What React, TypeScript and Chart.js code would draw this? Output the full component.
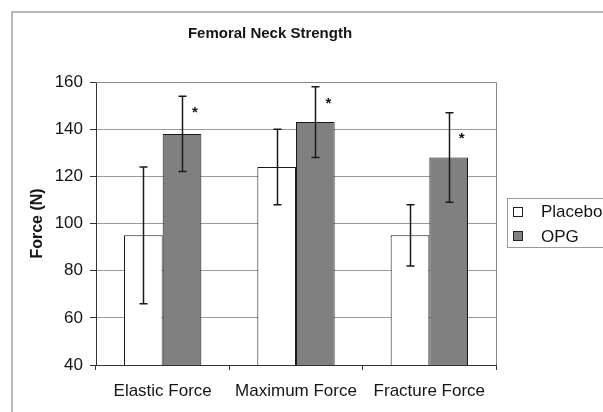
import React, { useEffect, useRef } from 'react';
import { Chart, registerables } from 'chart.js';

Chart.register(...registerables);

const chartTitle = 'Femoral Neck Strength';
const yAxisTitle = 'Force (N)';
const categories = ['Elastic Force', 'Maximum Force', 'Fracture Force'];
const seriesNames = ['Placebo', 'OPG'];
const placeboValues = [95, 124, 95];
const opgValues = [138, 143, 128];
const placeboLow = [66, 108, 82];
const placeboHigh = [124, 140, 108];
const opgLow = [122, 128, 109];
const opgHigh = [154, 158, 147];
const starLevels = [149, 153, 138];
const yTicks = [40, 60, 80, 100, 120, 140, 160];

const FONT = "'Liberation Sans', Arial, Helvetica, sans-serif";
const TEXT = '#151515';

const decorPlugin = {
  id: 'decor',
  beforeDraw(chart: any) {
    const ctx = chart.ctx;
    ctx.save();
    ctx.fillStyle = '#ffffff';
    ctx.fillRect(0, 0, chart.width, chart.height);
    ctx.strokeStyle = '#b8b8b8';
    ctx.lineWidth = 2;
    ctx.strokeRect(12, 12, chart.width + 20, chart.height + 20);
    ctx.restore();
  },
  afterDatasetsDraw(chart: any) {
    const ctx = chart.ctx;
    const y = chart.scales.y;
    const a = chart.chartArea;
    ctx.save();
    // plot border (top / right)
    ctx.strokeStyle = '#8a8a8a';
    ctx.lineWidth = 1;
    ctx.beginPath();
    ctx.moveTo(a.left, Math.round(a.top) + 0.5);
    ctx.lineTo(Math.round(a.right) + 0.5, Math.round(a.top) + 0.5);
    ctx.lineTo(Math.round(a.right) + 0.5, a.bottom);
    ctx.stroke();

    // error bars
    ctx.strokeStyle = '#1a1a1a';
    ctx.lineWidth = 1.5;
    chart.data.datasets.forEach((ds: any, di: number) => {
      const meta = chart.getDatasetMeta(di);
      meta.data.forEach((bar: any, i: number) => {
        const x = Math.round(bar.x) + 0.5;
        const yl = y.getPixelForValue(ds.errLow[i]);
        const yh = y.getPixelForValue(ds.errHigh[i]);
        ctx.beginPath();
        ctx.moveTo(x, yl);
        ctx.lineTo(x, yh);
        ctx.moveTo(x - 4, yl);
        ctx.lineTo(x + 4, yl);
        ctx.moveTo(x - 4, yh);
        ctx.lineTo(x + 4, yh);
        ctx.stroke();
      });
    });

    // significance stars on OPG
    const opgMeta = chart.getDatasetMeta(1);
    ctx.fillStyle = TEXT;
    ctx.font = `bold 15px ${FONT}`;
    ctx.textAlign = 'center';
    ctx.textBaseline = 'alphabetic';
    opgMeta.data.forEach((bar: any, i: number) => {
      const cy = y.getPixelForValue(starLevels[i]);
      ctx.fillText('*', bar.x + 13, cy + 9);
    });
    ctx.restore();
  },
  afterDraw(chart: any) {
    const ctx = chart.ctx;
    ctx.save();
    // title
    ctx.fillStyle = TEXT;
    ctx.font = `bold 15px ${FONT}`;
    ctx.textAlign = 'center';
    ctx.textBaseline = 'middle';
    ctx.fillText(chartTitle, 270, 34);

    // legend
    ctx.strokeStyle = '#9a9a9a';
    ctx.lineWidth = 1;
    ctx.strokeRect(507.5, 198.5, 130, 49);
    ctx.font = `17px ${FONT}`;
    ctx.textAlign = 'left';
    const rows = [211.5, 236];
    chart.data.datasets.forEach((ds: any, i: number) => {
      const cy = rows[i];
      ctx.fillStyle = ds.backgroundColor;
      ctx.fillRect(513.5, Math.round(cy - 5) + 0.5, 9, 9);
      ctx.strokeStyle = '#222';
      ctx.strokeRect(513.5, Math.round(cy - 5) + 0.5, 9, 9);
      ctx.fillStyle = TEXT;
      ctx.fillText(ds.label, 541, cy + 1);
    });
    ctx.restore();
  },
};

export default function App() {
  const ref = useRef<HTMLCanvasElement | null>(null);
  useEffect(() => {
    if (!ref.current) return;
    const chart = new Chart(ref.current, {
      type: 'bar',
      data: {
        labels: categories,
        datasets: [
          {
            label: seriesNames[0],
            data: placeboValues,
            backgroundColor: '#ffffff',
            borderColor: '#1a1a1a',
            borderWidth: 1,
            errLow: placeboLow,
            errHigh: placeboHigh,
          } as any,
          {
            label: seriesNames[1],
            data: opgValues,
            backgroundColor: '#808080',
            borderColor: '#1a1a1a',
            borderWidth: 1,
            errLow: opgLow,
            errHigh: opgHigh,
          } as any,
        ],
      },
      options: {
        animation: false,
        responsive: false,
        devicePixelRatio: 1,
        layout: { padding: { left: 0, top: 82, right: 107, bottom: 0 } },
        datasets: { bar: { categoryPercentage: 0.58, barPercentage: 1 } },
        plugins: {
          legend: { display: false },
          title: { display: false },
          tooltip: { enabled: false },
        },
        scales: {
          x: {
            afterFit: (s: any) => { s.height = 47; },
            grid: {
              display: true,
              drawOnChartArea: false,
              drawTicks: true,
              tickLength: 5,
              offset: true,
              color: '#333',
            },
            border: { color: '#333', width: 1 },
            ticks: {
              color: TEXT,
              padding: 11,
              font: { family: FONT, size: 17 },
              maxRotation: 0,
            },
          },
          y: {
            min: 40,
            max: 160,
            afterFit: (s: any) => { s.width = 96; },
            afterBuildTicks: (s: any) => { s.ticks = yTicks.map((v) => ({ value: v })); },
            grid: { color: '#9a9a9a', tickColor: '#333', tickLength: 6, lineWidth: 1 },
            border: { color: '#333', width: 1 },
            ticks: { color: TEXT, padding: 7, font: { family: FONT, size: 17 } },
            title: {
              display: true,
              text: yAxisTitle,
              color: TEXT,
              font: { family: FONT, size: 16, weight: 'bold' },
              padding: { top: 28, bottom: 0 },
            },
          },
        },
      } as any,
      plugins: [decorPlugin],
    });
    return () => chart.destroy();
  }, []);
  return (
    <div style={{ position: 'fixed', left: 0, top: 0, width: 603, height: 412, background: '#fff' }}>
      <canvas ref={ref} width={603} height={412} style={{ display: 'block', width: 603, height: 412 }} />
    </div>
  );
}
